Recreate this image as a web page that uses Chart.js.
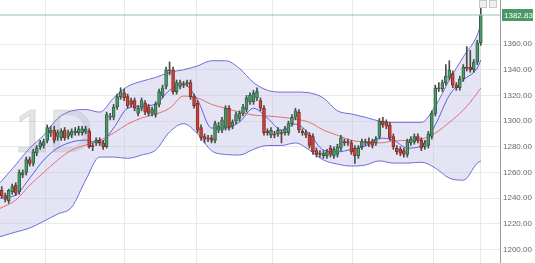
<!DOCTYPE html>
<html><head><meta charset="utf-8">
<script src="https://cdn.jsdelivr.net/npm/chart.js@4"></script>
<style>html,body{margin:0;padding:0;background:#fff}#wrap{width:535px;height:263px;position:relative}</style>
</head><body><div id="wrap"><canvas id="c" width="535" height="263"></canvas></div>
<script>
// ---- data ----
const opens  = [1246,1242,1238,1245,1250,1245,1258,1260,1270,1267,1275,1280,1281,1285,1291,1293,1288,1287,1293,1288,1289,1291,1291,1291,1292,1292,1281,1283,1285,1283,1280,1303,1303,1311,1319,1322,1319,1316,1316,1306,1310,1314,1311,1306,1305,1313,1320,1327,1340,1340,1323,1327,1329,1329,1330,1319,1314,1295,1288,1287,1287,1285,1293,1293,1295,1310,1296,1300,1302,1306,1309,1315,1315,1318,1316,1310,1292,1289,1290,1290,1291,1291,1291,1298,1303,1307,1292,1291,1289,1288,1277,1275,1273,1273,1279,1273,1274,1279,1284,1284,1283,1279,1273,1280,1283,1284,1284,1283,1288,1300,1299,1297,1288,1279,1278,1277,1274,1283,1284,1288,1285,1280,1281,1288,1306,1326,1325,1330,1334,1337,1328,1326,1333,1342,1342,1340,1346,1361];
const highs  = [1249,1244,1247,1251,1252,1262,1262,1272,1272,1278,1281,1285,1286,1297,1296,1296,1293,1294,1295,1293,1294,1295,1296,1296,1296,1294,1283,1287,1287,1285,1307,1306,1313,1321,1326,1325,1321,1318,1318,1312,1318,1316,1313,1311,1315,1325,1328,1342,1346,1342,1332,1332,1331,1332,1332,1321,1316,1297,1290,1289,1289,1300,1299,1303,1312,1312,1301,1307,1308,1313,1320,1322,1324,1326,1318,1312,1294,1295,1292,1295,1293,1296,1300,1305,1310,1309,1294,1293,1291,1290,1279,1277,1277,1278,1281,1280,1282,1289,1286,1286,1285,1281,1281,1286,1286,1287,1286,1288,1302,1303,1301,1299,1290,1281,1280,1279,1286,1288,1290,1290,1287,1285,1292,1308,1328,1330,1332,1344,1347,1339,1330,1335,1344,1358,1355,1348,1363,1394];
const lows   = [1240,1237,1236,1243,1242,1243,1256,1258,1265,1265,1273,1278,1279,1283,1288,1283,1285,1285,1285,1286,1287,1289,1289,1289,1290,1279,1277,1281,1281,1278,1279,1301,1301,1309,1317,1316,1310,1311,1308,1304,1308,1305,1304,1304,1303,1311,1318,1325,1336,1321,1321,1325,1326,1327,1317,1310,1291,1285,1283,1284,1283,1283,1291,1291,1293,1293,1294,1298,1300,1304,1307,1313,1313,1316,1308,1289,1289,1287,1287,1288,1283,1289,1289,1296,1301,1291,1289,1287,1279,1274,1272,1272,1271,1271,1272,1271,1272,1277,1281,1281,1274,1267,1271,1278,1281,1280,1279,1281,1286,1295,1294,1285,1278,1274,1273,1272,1272,1281,1282,1283,1277,1278,1279,1286,1304,1323,1323,1328,1332,1326,1324,1324,1331,1339,1338,1338,1344,1359];
const closes = [1242,1239,1246,1249,1244,1260,1260,1270,1267,1276,1279,1283,1284,1295,1293,1285,1291,1292,1287,1291,1292,1292,1294,1294,1294,1280,1280,1285,1283,1280,1305,1304,1311,1319,1323,1318,1312,1313,1310,1310,1316,1307,1306,1309,1313,1323,1326,1340,1339,1323,1330,1330,1328,1330,1319,1312,1293,1287,1286,1286,1285,1298,1296,1301,1310,1295,1299,1305,1306,1311,1318,1320,1322,1323,1310,1291,1291,1293,1289,1293,1290,1294,1298,1303,1308,1293,1291,1289,1281,1276,1274,1274,1275,1276,1274,1278,1280,1287,1283,1283,1276,1273,1279,1284,1284,1282,1281,1286,1300,1297,1296,1287,1280,1276,1275,1274,1284,1286,1288,1285,1279,1283,1290,1306,1326,1325,1330,1335,1340,1328,1326,1333,1342,1341,1340,1346,1361,1382.83];

// indicator lines, sampled at these day positions
const bandDays  = [-0.5,4,8,12,16,20,24,28,32,36,40,44,48,52,56,60,64,68,72,76,80,84,88,92,96,100,104,108,112,116,120,124,128,132,136,137];
const upperBand = [1252,1266,1279,1289,1302,1308,1309,1307,1318,1327,1331,1334,1338,1340,1343,1347,1347,1341,1330,1324,1322.6,1322.6,1322,1318,1308,1305.5,1303,1300,1299,1299,1299,1311.7,1332,1350,1367,1375.6];
const lowerBand = [1210,1213.6,1216.7,1222,1227.6,1233,1254,1272,1272,1271,1273.6,1277.4,1291.5,1298,1290,1277,1274,1273.6,1278,1281,1281,1283,1277.4,1269.7,1266.5,1265,1265.8,1269,1267.3,1267.3,1268,1263.4,1255.6,1254,1267.3,1269];
const midLine   = [1232,1238.5,1250,1260,1269.7,1277.4,1281.3,1285,1290.7,1297.7,1302.4,1305.5,1310,1319.5,1318,1313,1310,1307,1304.7,1304,1303,1301.6,1299,1293,1289,1285,1283.7,1283,1284.5,1285,1286,1290.7,1299,1308.6,1321.8,1325.7];
const fastLine  = [1240,1242.4,1255.6,1269.7,1279,1283.7,1285.2,1283,1294.6,1310,1311.7,1313.3,1324,1328.8,1316.4,1294.6,1294.6,1299.3,1310,1302.4,1293,1297.7,1290,1277.4,1276,1278,1280.6,1286.8,1285.2,1279,1280.6,1297,1320,1332,1341.3,1347.5];

const priceTicks = [1200,1220,1240,1260,1280,1300,1320,1340,1360];
const monthLines = [12.5,35.2,55.8,77.5,100.2,123.5,136.8];
const watermark = "1D";

// ---- chart ----
const days = closes.map((_, i) => i);
const pts = arr => bandDays.map((d, i) => ({x: d, y: arr[i]}));
const up = days.map(i => closes[i] >= opens[i]);
const bodyFill = up.map(u => u ? '#4f9b6b' : '#c9473b');
const bodyLine = up.map(u => u ? '#2e6343' : '#8a2b22');

const overlay = {
  id: 'overlay',
  beforeDatasetsDraw(chart) {
    const {ctx, chartArea: a} = chart;
    ctx.save();
    ctx.beginPath(); ctx.rect(a.left, a.top, a.right - a.left, a.bottom - a.top); ctx.clip();
    ctx.font = '62px "Liberation Sans", Arial, sans-serif';
    ctx.fillStyle = 'rgba(170,170,170,0.3)';
    ctx.strokeStyle = 'rgba(160,160,160,0.25)';
    ctx.lineWidth = 1;
    ctx.textBaseline = 'alphabetic';
    ctx.fillText(watermark, 14, 152);
    ctx.strokeText(watermark, 14, 152);
    ctx.restore();
  },
  afterDraw(chart) {
    const {ctx, chartArea: a, scales: {y}} = chart;
    const last = closes[closes.length - 1];
    const py = Math.round(y.getPixelForValue(last));
    ctx.save();
    ctx.strokeStyle = 'rgba(160,200,175,0.55)';
    ctx.lineWidth = 2;
    ctx.beginPath(); ctx.moveTo(a.left, py); ctx.lineTo(a.right, py); ctx.stroke();
    // price tag
    ctx.fillStyle = '#4a9a68';
    ctx.fillRect(a.right + 2, py - 6, 31, 12);
    ctx.fillStyle = '#ffffff';
    ctx.font = '8px "Liberation Sans", Arial, sans-serif';
    ctx.textBaseline = 'middle';
    ctx.textAlign = 'left';
    ctx.fillText(last.toFixed(2), a.right + 4, py + 0.5);
    // small toolbar icons
    ctx.strokeStyle = '#c9c9c9'; ctx.fillStyle = '#efefef'; ctx.lineWidth = 1;
    ctx.fillRect(479.5, 0.5, 7, 7); ctx.strokeRect(479.5, 0.5, 7, 7);
    ctx.fillRect(489.5, 0.5, 7, 7); ctx.strokeRect(489.5, 0.5, 7, 7);
    ctx.restore();
  }
};

const lineDs = (data, color, extra) => Object.assign({
  type: 'line', data, borderColor: color, borderWidth: 1, pointRadius: 0,
  tension: 0.4, cubicInterpolationMode: 'monotone', fill: false
}, extra);

new Chart(document.getElementById('c'), {
  type: 'bar',
  data: {
    datasets: [
      lineDs(pts(upperBand), '#6b6fd6', {fill: '+1', backgroundColor: 'rgba(190,190,232,0.42)', order: 7}),
      lineDs(pts(lowerBand), '#6b6fd6', {order: 6}),
      lineDs(pts(midLine), '#e07070', {order: 5}),
      lineDs(pts(fastLine), '#5a5ee0', {order: 4}),
      {type: 'bar', data: days.map(i => ({x: i, y: [lows[i], highs[i]]})), backgroundColor: '#4a4a4a',
       barThickness: 1, grouped: false, order: 2},
      {type: 'bar', data: days.map(i => ({x: i, y: [opens[i], closes[i]]})), backgroundColor: bodyFill,
       borderColor: bodyLine, borderWidth: 1, borderSkipped: false, barThickness: 3, minBarLength: 1,
       grouped: false, order: 1}
    ]
  },
  options: {
    responsive: false, animation: false, devicePixelRatio: 1,
    layout: {padding: 0},
    plugins: {legend: {display: false}, tooltip: {enabled: false}},
    scales: {
      x: {
        type: 'linear', min: -0.5, max: 142.5, offset: false,
        grid: {offset: false, color: '#e9e9e9', drawTicks: false},
        border: {display: false},
        ticks: {display: false},
        afterBuildTicks: s => { s.ticks = monthLines.map(v => ({value: v})); },
        afterFit: s => { s.height = 0; s.paddingLeft = 0; s.paddingRight = 0; }
      },
      y: {
        position: 'right', min: 1189.5, max: 1394.3,
        grid: {color: '#e9e9e9', drawTicks: false},
        border: {display: true, color: '#9a9a9a'},
        ticks: {padding: 3, color: '#666', font: {size: 8, family: '"Liberation Sans", Arial, sans-serif'},
                callback: v => Number(v).toFixed(2)},
        afterBuildTicks: s => { s.ticks = priceTicks.map(v => ({value: v})); },
        afterFit: s => { s.width = 35; s.paddingTop = 0; s.paddingBottom = 0; }
      }
    }
  },
  plugins: [overlay]
});
</script></body></html>
